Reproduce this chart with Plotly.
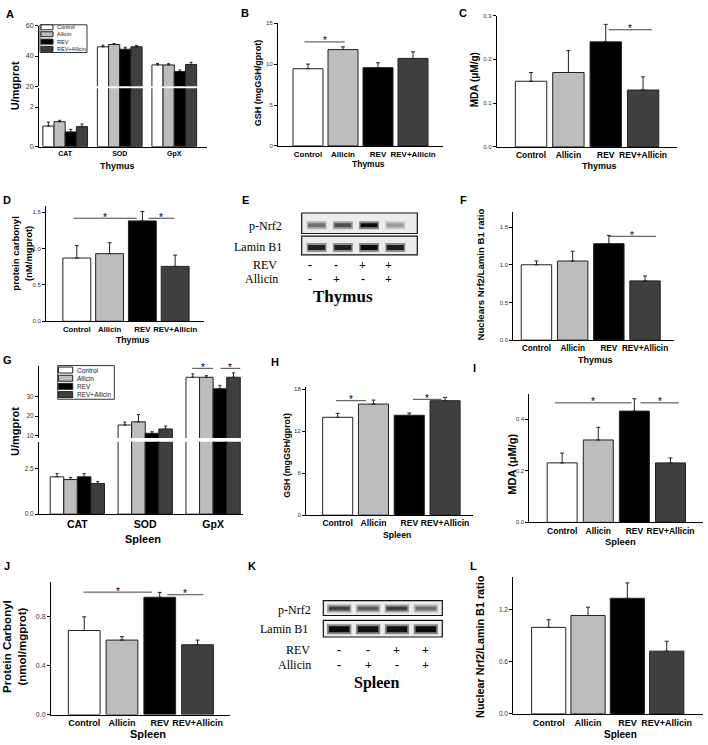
import plotly.graph_objects as go

W, H = 708, 745
FONT = "Liberation Sans, Arial, sans-serif"
SERIF = "Liberation Serif, Times New Roman, serif"

groups = ["Control", "Allicin", "REV", "REV+Allicin"]
bar_colors = ["#ffffff", "#bdbdbd", "#000000", "#3f3f3f"]
enzymes = ["CAT", "SOD", "GpX"]

# A: Thymus enzymes (U/mgprot), one list per enzyme, order = groups
thy_cat = [1.04, 1.26, 0.74, 1.01]
thy_cat_err = [0.20, 0.07, 0.13, 0.13]
thy_sod = [46.1, 47.6, 44.5, 46.1]
thy_sod_err = [1.0, 0.7, 1.3, 0.9]
thy_gpx = [34.1, 34.1, 29.7, 34.4]
thy_gpx_err = [1.0, 0.8, 1.0, 1.4]
# B: Thymus GSH
thy_gsh = [9.43, 11.77, 9.56, 10.69]
thy_gsh_err = [0.57, 0.33, 0.60, 0.80]
# C: Thymus MDA
thy_mda = [0.150, 0.170, 0.240, 0.130]
thy_mda_err = [0.020, 0.050, 0.040, 0.030]
# D: Thymus protein carbonyl
thy_pc = [0.87, 0.93, 1.38, 0.755]
thy_pc_err = [0.17, 0.15, 0.13, 0.155]
# F: Thymus nuclear Nrf2 / Lamin B1
thy_nrf2 = [1.00, 1.05, 1.28, 0.786]
thy_nrf2_err = [0.05, 0.13, 0.11, 0.065]
# G: Spleen enzymes
spl_cat = [2.06, 1.91, 2.06, 1.69]
spl_cat_err = [0.18, 0.11, 0.18, 0.11]
spl_sod = [15.5, 17.1, 11.3, 13.5]
spl_sod_err = [1.5, 3.7, 0.8, 1.5]
spl_gpx = [39.6, 39.6, 33.8, 39.6]
spl_gpx_err = [1.7, 0.8, 1.7, 2.2]
# H: Spleen GSH
spl_gsh = [13.98, 15.87, 14.27, 16.35]
spl_gsh_err = [0.57, 0.57, 0.33, 0.47]
# I: Spleen MDA
spl_mda = [0.231, 0.320, 0.432, 0.231]
spl_mda_err = [0.038, 0.049, 0.048, 0.019]
# J: Spleen protein carbonyl
spl_pc = [0.684, 0.606, 0.954, 0.568]
spl_pc_err = [0.111, 0.027, 0.040, 0.038]
# L: Spleen nuclear Nrf2 / Lamin B1
spl_nrf2 = [0.998, 1.135, 1.333, 0.724]
spl_nrf2_err = [0.088, 0.095, 0.177, 0.114]

# Western blots: relative band intensity per lane
lanes = [0, 1, 2, 3]
thy_pnrf2_band = [0.50, 0.65, 0.95, 0.30]
thy_lamin_band = [0.85, 0.85, 0.95, 0.88]
spl_pnrf2_band = [0.70, 0.58, 0.72, 0.50]
spl_lamin_band = [0.95, 0.92, 0.92, 0.95]
rev_signs = ["-", "-", "+", "+"]
allicin_signs = ["-", "+", "-", "+"]

fig = go.Figure()
layout = dict(width=W, height=H, margin=dict(l=0, r=0, t=0, b=0),
              paper_bgcolor="white", plot_bgcolor="white",
              showlegend=False, barmode="overlay")
annotations = []
shapes = []
counter = [0]


def px_x(px):
    return px / W


def px_y(py):
    return 1 - py / H


def ann(text, px, py, size, bold=True, family=FONT, xanchor="center",
        yanchor="middle", angle=0, color="#000000"):
    annotations.append(dict(
        text=("<b>%s</b>" % text) if bold else text,
        x=px_x(px), y=px_y(py), xref="paper", yref="paper", showarrow=False,
        font=dict(family=family, size=size, color=color),
        xanchor=xanchor, yanchor=yanchor, textangle=angle))


def new_axes(x0, x1, ytop, ybot, xr, yr, xline=True, yline=True,
             ytickvals=None, ytickfmt=None, tick_fs=6, xtickvals=None,
             xticktext=None, cat_fs=8, visible=True):
    counter[0] += 1
    n = counter[0]
    s = "" if n == 1 else str(n)
    layout["xaxis" + s] = dict(
        domain=[px_x(x0), px_x(x1)], range=xr, anchor="y" + s,
        showgrid=False, zeroline=False, showline=xline, linecolor="black",
        linewidth=1, ticks="", tickvals=xtickvals or [],
        ticktext=xticktext or [], tickfont=dict(family=FONT, size=cat_fs, color="#000000"),
        fixedrange=True, visible=visible)
    ya = dict(
        domain=[px_y(ybot), px_y(ytop)], range=yr, anchor="x" + s,
        showgrid=False, zeroline=False, showline=yline, linecolor="black",
        linewidth=1, ticks="outside" if yline else "", ticklen=3,
        tickcolor="black", tickvals=ytickvals or [],
        tickfont=dict(family=FONT, size=tick_fs, color="#333333"),
        fixedrange=True, visible=visible)
    if ytickfmt:
        ya["tickformat"] = ytickfmt
    layout["yaxis" + s] = ya
    return "x" + s, "y" + s


def single_bars(xa, ya, vals, errs, width):
    fig.add_trace(go.Bar(
        x=list(range(len(groups))), y=vals, width=width,
        marker=dict(color=bar_colors, line=dict(color="#222222", width=1)),
        error_y=dict(type="data", array=errs, arrayminus=[0] * len(errs),
                     symmetric=False, color="#222222", thickness=1, width=2),
        xaxis=xa, yaxis=ya, hoverinfo="skip"))


def grouped_bars(xa, ya, series, series_err, group_w):
    bw = group_w / len(groups)
    for k, g in enumerate(groups):
        fig.add_trace(go.Bar(
            x=list(range(len(enzymes))), y=[s[k] for s in series],
            width=bw, offset=-group_w / 2 + k * bw,
            marker=dict(color=bar_colors[k], line=dict(color="#222222", width=1)),
            error_y=dict(type="data", array=[e[k] for e in series_err],
                         arrayminus=[0] * len(enzymes), symmetric=False,
                         color="#222222", thickness=1, width=1.5),
            xaxis=xa, yaxis=ya, name=g, hoverinfo="skip"))


def sig(xa, ya, x0, x1, y, size=10):
    shapes.append(dict(type="line", xref=xa, yref=ya, x0=x0, x1=x1, y0=y, y1=y,
                       line=dict(color="#444444", width=1)))
    annotations.append(dict(text="*", xref=xa, yref=ya, x=(x0 + x1) / 2, y=y,
                            showarrow=False, yanchor="middle", yshift=1,
                            font=dict(family=FONT, size=size, color="#000000")))


def legend_box(x0, x1, y0, y1, rows_y, sw_x0, sw_x1, text_x, fs, sw_h):
    shapes.append(dict(type="rect", xref="paper", yref="paper",
                       x0=px_x(x0), x1=px_x(x1), y0=px_y(y1), y1=px_y(y0),
                       line=dict(color="#333333", width=1), fillcolor="white"))
    for k, g in enumerate(groups):
        yy = rows_y[k]
        shapes.append(dict(type="rect", xref="paper", yref="paper",
                           x0=px_x(sw_x0), x1=px_x(sw_x1),
                           y0=px_y(yy + sw_h / 2), y1=px_y(yy - sw_h / 2),
                           line=dict(color="#222222", width=1),
                           fillcolor=bar_colors[k]))
        ann(g, text_x, yy, fs, bold=False, xanchor="left", color="#222222")


def cat_ticks():
    return list(range(len(groups))), ["<b>%s</b>" % g for g in groups]


# ---------------- A ----------------
xt = list(range(len(enzymes)))
xtt = ["<b>%s</b>" % e for e in enzymes]
xa, ya = new_axes(39, 207, 85, 144, [-0.48, 2.6], [0, 2.95], ytickvals=[0, 2],
                  tick_fs=7, xtickvals=xt, xticktext=xtt, cat_fs=7)
grouped_bars(xa, ya, [thy_cat, thy_sod, thy_gpx], [thy_cat_err, thy_sod_err, thy_gpx_err], 0.82)
xa, ya = new_axes(39, 207, 22, 83, [-0.48, 2.6], [20, 60], xline=False,
                  ytickvals=[20, 40, 60], tick_fs=7)
grouped_bars(xa, ya, [thy_cat, thy_sod, thy_gpx], [thy_cat_err, thy_sod_err, thy_gpx_err], 0.82)
legend_box(40, 87, 21, 49, [23.5, 30.5, 38, 45.3], 41, 53, 55, 5.5, 5)
ann("U/mgprot", 15, 83, 11, angle=-90)
ann("Thymus", 117, 164, 9)
ann("A", 10, 10, 11)

# ---------------- B ----------------
xv, xtx = cat_ticks()
xa, ya = new_axes(278, 443, 19.3, 143.3, [-0.857, 3.857], [0, 15],
                  ytickvals=[0, 5, 10, 15], tick_fs=6, xtickvals=xv, xticktext=xtx, cat_fs=8)
single_bars(xa, ya, thy_gsh, thy_gsh_err, 0.857)
sig(xa, ya, -0.1, 1.05, 12.7)
ann("GSH (mgGSH/gprot)", 258, 80, 9, angle=-90)
ann("Thymus", 368, 162, 8.5)
ann("B", 245, 9, 11)

# ---------------- C ----------------
xa, ya = new_axes(496.7, 676.7, 11.7, 144.3, [-0.92, 3.9], [0, 0.3],
                  ytickvals=[0, 0.1, 0.2, 0.3], ytickfmt=".1f", tick_fs=6,
                  xtickvals=xv, xticktext=xtx, cat_fs=8.5)
single_bars(xa, ya, thy_mda, thy_mda_err, 0.84)
sig(xa, ya, 2.08, 3.24, 0.2676)
ann("MDA (\u03bcM/g)", 474, 77, 10, angle=-90)
ann("Thymus", 599, 164, 9)
ann("C", 463, 9, 11)

# ---------------- D ----------------
xa, ya = new_axes(46, 204, 204.3, 320.3, [-0.94, 3.88], [0, 1.58],
                  ytickvals=[0, 0.5, 1.0, 1.5], ytickfmt=".1f", tick_fs=6,
                  xtickvals=xv, xticktext=xtx, cat_fs=7.8)
single_bars(xa, ya, thy_pc, thy_pc_err, 0.85)
sig(xa, ya, -0.1, 1.83, 1.417)
sig(xa, ya, 2.19, 2.97, 1.417)
ann("protein carbonyl<br>(nM/mgprot)", 22, 252, 9.5, angle=-90)
ann("Thymus", 132, 339, 8.7)
ann("D", 7, 198, 11)


# ---------------- blots ----------------
def blot(x0, x1, rows, xr, band_sets, band_y, band_lw, hw):
    for (ytop, ybot), bands, lw in zip(rows, band_sets, band_lw):
        xa, ya = new_axes(x0, x1, ytop, ybot, xr, [0, 1], visible=False)
        shapes.append(dict(type="rect", xref=xa + " domain", yref=ya + " domain",
                           x0=0, x1=1, y0=0, y1=1, layer="below",
                           line=dict(color="#111111", width=1.2), fillcolor="#ececec"))
        for i, v in zip(lanes, bands):
            g = int(225 * (1 - v))
            fig.add_trace(go.Scatter(
                x=[i - hw, i + hw], y=[band_y, band_y], mode="lines",
                line=dict(color="rgba(%d,%d,%d,0.45)" % (g, g, g), width=lw + 4),
                xaxis=xa, yaxis=ya, hoverinfo="skip"))
            fig.add_trace(go.Scatter(
                x=[i - hw * 0.85, i + hw * 0.85], y=[band_y, band_y], mode="lines",
                line=dict(color="rgb(%d,%d,%d)" % (g, g, g), width=lw),
                xaxis=xa, yaxis=ya, hoverinfo="skip"))


def lane_px(x0, x1, xr, lane):
    return x0 + (lane - xr[0]) / (xr[1] - xr[0]) * (x1 - x0)


def sign_rows(x0, x1, xr, shift, y_rev, y_all):
    for i, (r, a) in enumerate(zip(rev_signs, allicin_signs)):
        xp = lane_px(x0, x1, xr, lanes[i] + shift)
        ann(r, xp, y_rev, 12, family=SERIF)
        ann(a, xp, y_all, 12, family=SERIF)


E_X0, E_X1, E_XR = 301.7, 417.3, [-0.57, 3.84]
blot(E_X0, E_X1, [(211, 231.7), (234.3, 253.3)], E_XR,
     [thy_pnrf2_band, thy_lamin_band], 0.4, [4, 5], 0.38)
ann("p-Nrf2", 284, 224, 12, bold=False, family=SERIF, xanchor="right")
ann("Lamin B1", 284, 245, 12, bold=False, family=SERIF, xanchor="right")
ann("REV", 279, 263, 12, bold=False, family=SERIF, xanchor="right")
ann("Allicin", 280, 278, 12, bold=False, family=SERIF, xanchor="right")
sign_rows(E_X0, E_X1, E_XR, -0.25, 263, 278)
ann("Thymus", 343, 295, 17, family=SERIF)
ann("E", 245, 198, 11)

# ---------------- F ----------------
xa, ya = new_axes(513.3, 674, 210, 339.3, [-0.64, 3.8], [0, 1.7],
                  ytickvals=[0, 0.5, 1.0, 1.5], ytickfmt=".1f", tick_fs=6,
                  xtickvals=xv, xticktext=xtx, cat_fs=8.2)
single_bars(xa, ya, thy_nrf2, thy_nrf2_err, 0.84)
sig(xa, ya, 2.0, 3.3, 1.378)
ann("Nuclears Nrf2/Lamin B1 ratio", 480, 273, 9.6, angle=-90)
ann("Thymus", 595, 359, 9)
ann("F", 463, 198, 11)

# ---------------- G ----------------
xa, ya = new_axes(39, 243, 442, 515, [-0.565, 2.44], [0, 3.99],
                  ytickvals=[0, 2.5], ytickfmt=".1f", tick_fs=6.5,
                  xtickvals=xt, xticktext=xtt, cat_fs=10.5)
grouped_bars(xa, ya, [spl_cat, spl_sod, spl_gpx], [spl_cat_err, spl_sod_err, spl_gpx_err], 0.8)
xa, ya = new_axes(39, 243, 365, 438, [-0.565, 2.44], [9.0, 45.5], xline=False,
                  ytickvals=[10, 20, 30], tick_fs=6.5)
grouped_bars(xa, ya, [spl_cat, spl_sod, spl_gpx], [spl_cat_err, spl_sod_err, spl_gpx_err], 0.8)
sig(xa, ya, 1.69, 2.0, 44.1)
sig(xa, ya, 2.11, 2.4, 44.1)
legend_box(57.7, 114.3, 365, 399, [369.5, 377.8, 386, 394.3], 58.5, 72.7, 75, 6.5, 6)
ann("U/mgprot", 15, 432, 11, angle=-90)
ann("Spleen", 143, 540, 11)
ann("G", 7, 359, 11)

# ---------------- H ----------------
xa, ya = new_axes(306, 473, 386.7, 516, [-0.885, 3.78], [0, 18.3],
                  ytickvals=[0, 6, 12, 18], tick_fs=6,
                  xtickvals=xv, xticktext=xtx, cat_fs=8.6)
single_bars(xa, ya, spl_gsh, spl_gsh_err, 0.84)
sig(xa, ya, -0.05, 0.79, 16.35)
sig(xa, ya, 2.1, 2.9, 16.55)
ann("GSH (mgGSH/gprot)", 287, 456, 8.8, angle=-90)
ann("Spleen", 397, 536, 8.6)
ann("H", 275, 361, 11)

# ---------------- I ----------------
xa, ya = new_axes(529.3, 703, 393.3, 523.3, [-0.91, 3.9], [0, 0.5],
                  ytickvals=[0, 0.2, 0.4], ytickfmt=".1f", tick_fs=6,
                  xtickvals=xv, xticktext=xtx, cat_fs=8.5)
single_bars(xa, ya, spl_mda, spl_mda_err, 0.83)
sig(xa, ya, -0.2, 1.92, 0.464)
sig(xa, ya, 2.17, 3.23, 0.464)
ann("MDA (\u03bcM/g)", 512, 465, 11, angle=-90)
ann("Spleen", 620, 543, 9.4)
ann("I", 474, 367, 11)

# ---------------- J ----------------
xa, ya = new_axes(51, 230, 583.3, 717.3, [-0.88, 3.86], [0, 1.08],
                  ytickvals=[0, 0.4, 0.8], ytickfmt=".1f", tick_fs=7,
                  xtickvals=xv, xticktext=xtx, cat_fs=9)
single_bars(xa, ya, spl_pc, spl_pc_err, 0.84)
sig(xa, ya, -0.02, 1.79, 0.996)
sig(xa, ya, 2.2, 3.15, 0.975)
ann("Protein Carbonyl<br>(nmol/mgprot)", 15, 649, 11.5, angle=-90)
ann("Spleen", 148, 737, 11)
ann("J", 7, 567, 11)

# ---------------- K (blot) ----------------
K_X0, K_X1, K_XR = 323.3, 442.3, [-0.55, 3.57]
blot(K_X0, K_X1, [(602.3, 617.3), (622.3, 639)], K_XR,
     [spl_pnrf2_band, spl_lamin_band], 0.47, [4, 6], 0.42)
ann("p-Nrf2", 313, 612, 12, bold=False, family=SERIF, xanchor="right")
ann("Lamin B1", 310, 631, 12, bold=False, family=SERIF, xanchor="right")
ann("REV", 312, 652, 12, bold=False, family=SERIF, xanchor="right")
ann("Allicin", 313, 667, 12, bold=False, family=SERIF, xanchor="right")
sign_rows(K_X0, K_X1, K_XR, 0.0, 652, 667)
ann("Spleen", 377, 685, 16, family=SERIF)
ann("K", 252, 567, 11)

# ---------------- L ----------------
xa, ya = new_axes(513.3, 703.3, 578.3, 716.7, [-0.9, 3.93], [0, 1.58],
                  ytickvals=[0, 0.6, 1.2], ytickfmt=".1f", tick_fs=6.5,
                  xtickvals=xv, xticktext=xtx, cat_fs=9)
single_bars(xa, ya, spl_nrf2, spl_nrf2_err, 0.87)
ann("Nuclear Nrf2/Lamin B1 ratio", 480, 649, 10.8, angle=-90)
ann("Spleen", 620, 737, 10)
ann("L", 473, 567, 11)

layout["annotations"] = annotations
layout["shapes"] = shapes
fig.update_layout(**layout)
fig.write_html("out.html", config={"displayModeBar": False},
               post_script="document.body.style.margin='0px';document.body.style.overflow='hidden';")
